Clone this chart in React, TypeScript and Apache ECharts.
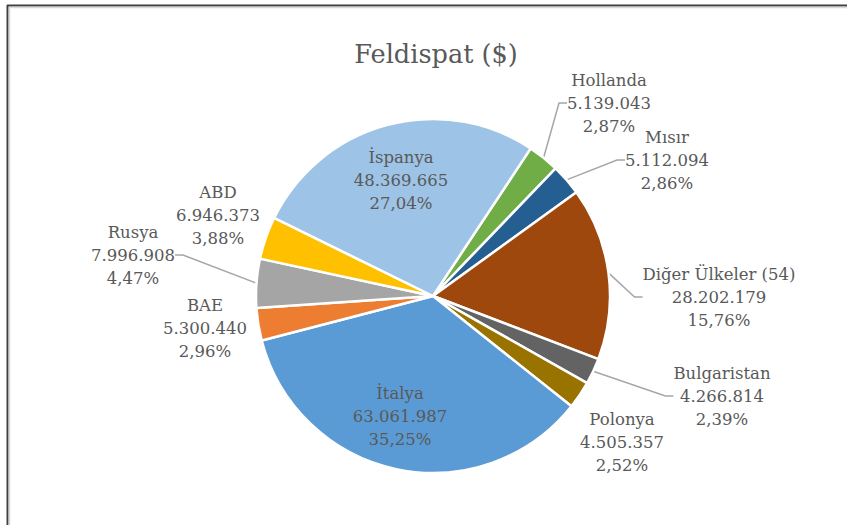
import React, { useEffect, useRef } from "react";
import * as echarts from "echarts";

const TITLE = "Feldispat ($)";
const categories = ["Hollanda", "Mısır", "Diğer Ülkeler (54)", "Bulgaristan", "Polonya", "İtalya", "BAE", "Rusya", "ABD", "İspanya"];
const values = [5139043, 5112094, 28202179, 4266814, 4505357, 63061987, 5300440, 7996908, 6946373, 48369665];
const colors = ["#70AD47", "#255E91", "#9E480E", "#636363", "#997300", "#5B9BD5", "#ED7D31", "#A5A5A5", "#FFC000", "#9DC3E6"];
const insideLabel = [false, false, false, false, false, true, false, false, false, true];
const showLine = [true, true, true, true, false, false, false, true, false, false];
const labelPos = [
  [609, 103], [667, 160], [719, 297], [722, 396], [622, 442],
  [400, 416], [205, 328], [133, 255], [218, 215], [401, 180],
];

const total = values.reduce((a, b) => a + b, 0);
const fmtNum = (v: number) => String(v).replace(/\B(?=(\d{3})+(?!\d))/g, ".");
const fmtPct = (v: number) => ((v / total) * 100).toFixed(2).replace(".", ",") + "%";

export default function App() {
  const ref = useRef<HTMLDivElement>(null);
  useEffect(() => {
    if (!ref.current) return;
    const chart = echarts.init(ref.current, null, { renderer: "svg" });
    const font = "DejaVu Serif";
    chart.setOption({
      animation: false,
      backgroundColor: "#ffffff",
      title: {
        text: TITLE,
        left: 431,
        top: 36,
        textAlign: "center",
        textStyle: { fontFamily: font, fontSize: 25.6, fontWeight: "normal", color: "#595959" },
      },
      graphic: [
        { type: "line", shape: { x1: 7, y1: 5.5, x2: 847, y2: 5.5 }, style: { stroke: "#404040", lineWidth: 2 } },
        { type: "line", shape: { x1: 7.5, y1: 5, x2: 7.5, y2: 525 }, style: { stroke: "#404040", lineWidth: 2 } },
        { type: "line", shape: { x1: 9, y1: 7.5, x2: 847, y2: 7.5 }, style: { stroke: "#d9d9d9", lineWidth: 1.5 } },
        { type: "line", shape: { x1: 9.5, y1: 7, x2: 9.5, y2: 525 }, style: { stroke: "#d9d9d9", lineWidth: 1.5 } },
      ],
      series: [
        {
          type: "pie",
          center: [433, 296],
          radius: 177,
          startAngle: 56.5,
          clockwise: true,
          avoidLabelOverlap: false,
          emphasis: { disabled: true },
          itemStyle: { borderColor: "#ffffff", borderWidth: 2.5 },
          label: {
            fontFamily: font,
            fontSize: 16.5,
            lineHeight: 23,
            color: "#595959",
            formatter: (p: any) => `${p.name}\n${fmtNum(p.value)}\n${fmtPct(p.value)}`,
          },
          labelLine: { length: 12, length2: 8, lineStyle: { color: "#A6A6A6", width: 1.5 } },
          labelLayout: (params: any) => {
            const p = labelPos[params.dataIndex];
            return { x: p[0], y: p[1], align: "center", verticalAlign: "middle" };
          },
          data: categories.map((name, i) => ({
            name,
            value: values[i],
            itemStyle: { color: colors[i] },
            label: { position: insideLabel[i] ? "inside" : "outside" },
            labelLine: { show: showLine[i] },
          })),
        },
      ],
    });
    return () => chart.dispose();
  }, []);
  return (
    <div style={{ position: "absolute", left: 0, top: 0, width: 847, height: 525, background: "#fff" }}>
      <div ref={ref} style={{ width: 847, height: 525 }} />
    </div>
  );
}
